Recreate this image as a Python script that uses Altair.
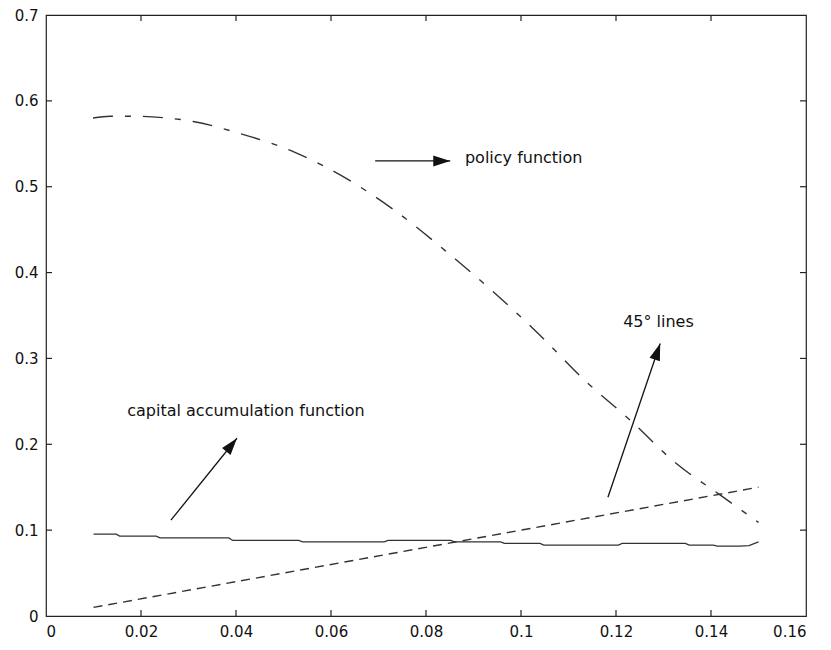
import altair as alt
import pandas as pd

# ---- data ----
pol_x = [0.0099, 0.0135, 0.0192, 0.0255, 0.031, 0.0402, 0.0524, 0.064, 0.073,
         0.0846, 0.0945, 0.104, 0.1135, 0.123, 0.1324, 0.1419, 0.150]
pol_y = [0.580, 0.582, 0.582, 0.580, 0.576, 0.563, 0.540, 0.507, 0.474,
         0.423, 0.376, 0.327, 0.274, 0.228, 0.179, 0.141, 0.109]

cap_x = [0.010, 0.0148, 0.0155, 0.0232, 0.024, 0.0385, 0.0393, 0.0532, 0.054,
         0.0712, 0.072, 0.0852, 0.086, 0.0957, 0.0965, 0.104, 0.1048, 0.1205,
         0.1213, 0.1346, 0.1354, 0.1405, 0.1413, 0.146, 0.148, 0.150]
cap_y = [0.0953, 0.0953, 0.093, 0.093, 0.091, 0.091, 0.088, 0.088, 0.0864,
         0.0864, 0.088, 0.088, 0.0864, 0.0864, 0.0845, 0.0845, 0.0826, 0.0826,
         0.0845, 0.0845, 0.0826, 0.0826, 0.0814, 0.0814, 0.082, 0.0864]

diag_x = [0.01, 0.15]
diag_y = [0.01, 0.15]

x_ticks = [0, 0.02, 0.04, 0.06, 0.08, 0.1, 0.12, 0.14, 0.16]
y_ticks = [0, 0.1, 0.2, 0.3, 0.4, 0.5, 0.6, 0.7]

labels = ["policy function", "45° lines", "capital accumulation function"]
label_x = [0.0882, 0.1215, 0.0171]
label_y = [0.5337, 0.342, 0.2384]

arrow_x = [0.0693, 0.1183, 0.0263]
arrow_y = [0.530, 0.1384, 0.1116]
arrow_x2 = [0.0851, 0.1293, 0.0402]
arrow_y2 = [0.530, 0.3174, 0.207]
arrow_angle = [90, 18.7, 38.8]

W, H = 760, 601
FONT = "DejaVu Sans"
INK = "#333333"

xs = alt.Scale(domain=[0, 0.16], nice=False, zero=False)
ys = alt.Scale(domain=[0, 0.7], nice=False, zero=False)

xax = alt.Axis(values=x_ticks, format="~g", ticks=False, domain=False, grid=False,
               labelFont=FONT, labelFontSize=15, labelColor="#111", labelPadding=8,
               title=None)
yax = alt.Axis(values=y_ticks, format="~g", ticks=False, domain=False, grid=False,
               labelFont=FONT, labelFontSize=15, labelColor="#111", labelPadding=8,
               title=None)

pol = pd.DataFrame({"x": pol_x, "y": pol_y})
cap = pd.DataFrame({"x": cap_x, "y": cap_y})
diag = pd.DataFrame({"x": diag_x, "y": diag_y})

base_pol = alt.Chart(pol).mark_line(
    color=INK, strokeWidth=1.4, strokeDash=[20, 12, 6, 12], interpolate="monotone"
).encode(x=alt.X("x:Q", scale=xs, axis=xax), y=alt.Y("y:Q", scale=ys, axis=yax))

cap_line = alt.Chart(cap).mark_line(color=INK, strokeWidth=1.3).encode(
    x=alt.X("x:Q", scale=xs), y=alt.Y("y:Q", scale=ys))

diag_line = alt.Chart(diag).mark_line(color=INK, strokeWidth=1.4, strokeDash=[9, 6]).encode(
    x=alt.X("x:Q", scale=xs), y=alt.Y("y:Q", scale=ys))

# inward tick marks on all four sides
xt = pd.DataFrame({"v": x_ticks[1:-1]})
yt = pd.DataFrame({"v": y_ticks[1:-1]})
tick_style = dict(color="#222", strokeWidth=1.2)
xt_bot = alt.Chart(xt).mark_rule(**tick_style).encode(
    x=alt.X("v:Q", scale=xs), y=alt.value(H), y2=alt.value(H - 6))
xt_top = alt.Chart(xt).mark_rule(**tick_style).encode(
    x=alt.X("v:Q", scale=xs), y=alt.value(0), y2=alt.value(6))
yt_left = alt.Chart(yt).mark_rule(**tick_style).encode(
    y=alt.Y("v:Q", scale=ys), x=alt.value(0), x2=alt.value(6))
yt_right = alt.Chart(yt).mark_rule(**tick_style).encode(
    y=alt.Y("v:Q", scale=ys), x=alt.value(W), x2=alt.value(W - 6))

# annotations
lab = pd.DataFrame({"t": labels, "x": label_x, "y": label_y})
texts = alt.Chart(lab).mark_text(
    align="left", baseline="middle", font=FONT, fontSize=16, color="#111"
).encode(x=alt.X("x:Q", scale=xs), y=alt.Y("y:Q", scale=ys), text="t:N")

arr = pd.DataFrame({"x": arrow_x, "y": arrow_y, "x2": arrow_x2, "y2": arrow_y2,
                    "a": arrow_angle})
shafts = alt.Chart(arr).mark_rule(color="#111", strokeWidth=1.3).encode(
    x=alt.X("x:Q", scale=xs), y=alt.Y("y:Q", scale=ys), x2="x2:Q", y2="y2:Q")
heads = alt.Chart(arr).mark_point(
    shape="M0,0L-0.32,1L0.32,1Z", filled=True, color="#111", opacity=1, size=1156
).encode(x=alt.X("x2:Q", scale=xs), y=alt.Y("y2:Q", scale=ys), angle=alt.Angle("a:Q", scale=None))

chart = alt.layer(
    base_pol, cap_line, diag_line, xt_bot, xt_top, yt_left, yt_right, texts, shafts, heads
).properties(
    width=W, height=H,
    padding={"left": 38, "top": 7, "right": 17, "bottom": 26},
    autosize=alt.AutoSizeParams(type="none"),
).configure_view(stroke="#222", strokeWidth=1.2)

chart.save("out.html", embed_options={"renderer": "svg", "actions": False})
